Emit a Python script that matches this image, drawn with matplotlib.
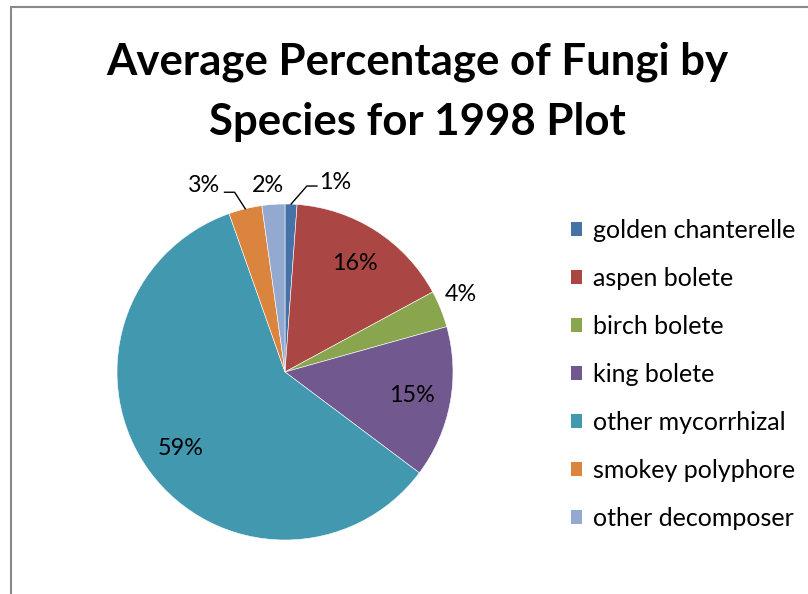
import matplotlib
matplotlib.use("Agg")
import matplotlib.pyplot as plt
from matplotlib.patches import Rectangle, Patch
import numpy as np

plt.rcParams['font.family'] = ['Lato', 'DejaVu Sans']

title_lines = ["Average Percentage of Fungi by", "Species for 1998 Plot"]
species = ["golden chanterelle", "aspen bolete", "birch bolete", "king bolete",
           "other mycorrhizal", "smokey polyphore", "other decomposer"]
percent = [1.15, 15.95, 3.55, 14.6, 59.35, 3.2, 2.2]
colors = ["#4572A7", "#AA4643", "#89A54E", "#71588F", "#4198AF", "#DB843D", "#93A9CF"]

W, H = 808, 594
fig = plt.figure(figsize=(W / 100, H / 100), dpi=100)

# chart frame
fig.patches.append(Rectangle((11 / W, -0.05), 1.2, (H - 7) / H + 0.05,
                             transform=fig.transFigure, fill=False,
                             edgecolor="#898989", linewidth=1.5))

for k, line in enumerate(title_lines):
    fig.text(417 / W, 1 - (62 + 60 * k) / H, line, ha="center", va="center",
             fontsize=31.5, fontweight="bold")

cx, cy, R = 285, 372, 168
ax = fig.add_axes([(cx - R) / W, (H - cy - R) / H, 2 * R / W, 2 * R / H])
wedges, _ = ax.pie(percent, colors=colors, startangle=90, counterclock=False,
                   wedgeprops=dict(edgecolor="white", linewidth=0.4))
ax.set_xlim(-1, 1)
ax.set_ylim(-1, 1)
ax.set_aspect("equal")
ax.axis("off")

fs = 16.8
cum = np.cumsum([0] + percent)
for i, p in enumerate(percent):
    mid = (cum[i] + cum[i + 1]) / 2 / 100 * 2 * np.pi
    sx, sy = np.sin(mid), np.cos(mid)
    lab = "%.0f%%" % p
    if p > 10:
        r = 0.77
        ax.text(r * sx, r * sy, lab, ha="center", va="center", fontsize=fs)
    elif i == 2:
        r = 1.14
        ax.text(r * sx - 0.01, r * sy + 0.035, lab, ha="center", va="center", fontsize=fs)
    elif i == 0:
        ax.plot([sx, 0.13, 0.19], [sy, 1.107, 1.107], color="black", lw=1, clip_on=False)
        ax.text(0.205, 1.13, lab, ha="left", va="center", fontsize=fs)
    elif i == 6:
        ax.text(-0.10, 1.11, lab, ha="center", va="center", fontsize=fs)
    elif i == 5:
        ax.plot([sx, -0.30, -0.36], [sy, 1.07, 1.07], color="black", lw=1, clip_on=False)
        ax.text(-0.385, 1.11, lab, ha="right", va="center", fontsize=fs)

handles = [Patch(facecolor=c, edgecolor="none") for c in colors]
fig.legend(handles, species, loc="upper left", bbox_to_anchor=(571 / W, 1 - 219 / H),
           frameon=False, fontsize=18, handlelength=0.44, handleheight=0.44,
           handletextpad=0.44, labelspacing=1.0, borderaxespad=0, borderpad=0)

fig.savefig("out.png", dpi=100)
